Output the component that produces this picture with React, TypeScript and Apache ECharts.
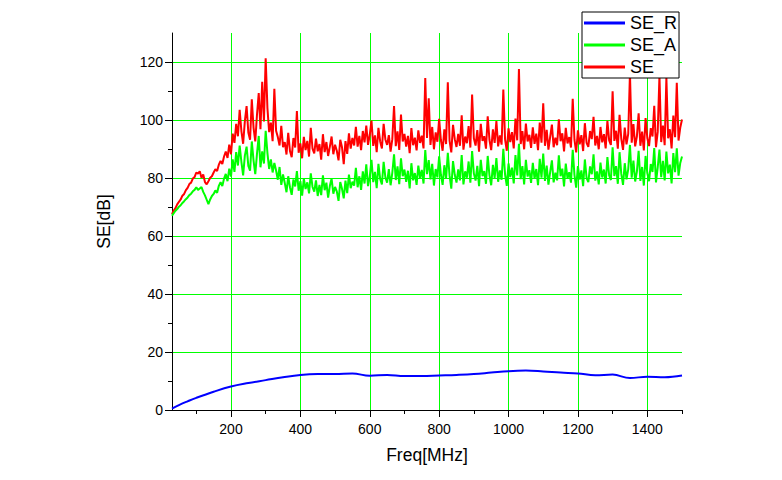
import React, { useEffect, useRef } from "react";
import * as echarts from "echarts";

// Frequency sweep of the noisy measurements: 30 MHz to 1500 MHz in 5 MHz steps
const sweepStart = 30;
const sweepStep = 5;

// SE (red)
const seValues = [
  67.5, 68.8, 69.6, 70.9, 71.8, 72.6, 73.9, 74.5, 75.8, 76.6, 77.9, 78.4, 79.8, 80.3, 81.9,
  81.5, 82.3, 80.1, 81.2, 78.6, 77.8, 78.9, 80.1, 80.6, 81.9,
  83.0, 82.4, 84.6, 85.9, 84.8, 87.4, 89.1, 86.9, 91.5, 88.2,
  95.3, 92.1, 98.7, 94.4, 103.5, 96.2, 91.8, 99.6, 104.8, 95.7, 93.2, 107.1, 97.4, 92.6, 101.9, 109.3, 96.8, 113.2, 99.5, 121.3,
  104.2, 95.8, 99.1, 92.7, 110.8, 96.3, 94.1, 91.2, 98.0, 90.6,
  92.4, 88.1, 95.6, 89.3, 87.2, 93.8, 90.5, 103.1, 88.7, 91.9,
  86.8, 94.2, 89.6, 92.8, 87.4, 97.3, 90.1, 88.5, 93.6, 89.2,
  91.7, 86.3, 95.1, 88.9, 92.4, 87.6, 90.8, 94.3, 88.2, 91.5,
  89.4, 86.1, 93.2, 90.6, 84.8, 92.7, 88.3, 95.4, 90.1, 93.8,
  91.2, 97.6, 90.8, 94.5, 89.6, 96.2, 92.3, 98.1, 91.4, 94.9,
  99.8, 91.1, 94.7, 88.9, 97.3, 92.6, 90.2, 98.7, 93.3, 91.4,
  94.8, 89.1, 93.4, 104.8, 91.0, 96.1, 89.7, 101.9, 92.6, 95.2,
  90.8, 94.5, 88.6, 97.2, 91.3, 93.9, 89.5, 96.4, 92.1, 94.6,
  90.2, 114.5, 93.8, 107.5, 91.4, 97.6, 89.9, 95.7, 92.5, 100.4,
  93.1, 89.4, 96.8, 91.7, 113.0, 92.9, 88.8, 98.3, 93.4, 90.7,
  95.2, 91.1, 101.6, 89.8, 94.3, 92.0, 97.9, 90.5, 108.8, 93.7,
  91.2, 96.5, 89.1, 98.7, 92.8, 94.4, 90.1, 101.3, 93.2, 89.6,
  96.8, 92.1, 99.6, 90.9, 94.7, 91.5, 110.5, 93.3, 89.4, 97.1,
  92.4, 95.8, 90.2, 100.5, 93.0, 117.6, 91.7, 96.2, 89.9, 98.8,
  92.6, 94.9, 90.4, 97.5, 91.8, 95.3, 89.6, 99.1, 92.2, 105.8,
  91.1, 96.6, 89.8, 94.2, 98.4, 90.6, 93.9, 91.3, 100.2, 92.7,
  95.4, 89.2, 97.3, 91.9, 94.1, 90.5, 107.3, 93.2, 88.8, 96.4,
  91.6, 94.8, 89.3, 98.9, 92.1, 90.7, 96.2, 93.4, 101.1, 91.2,
  94.5, 89.9, 97.6, 92.3, 95.1, 90.2, 99.7, 93.0, 91.4, 109.9,
  92.8, 96.3, 90.1, 101.8, 93.5, 89.7, 97.4, 91.6, 95.2, 116.1,
  92.2, 98.6, 90.9, 94.4, 102.3, 91.1, 96.0, 89.5, 100.7, 93.8,
  91.0, 97.2, 94.3, 104.9, 90.6, 95.9, 115.2, 92.4, 98.1, 91.3,
  114.6, 93.7, 96.8, 90.2, 101.5, 94.1, 112.8, 92.9, 97.4, 100.2,
];

// SE_A (green)
const seAValues = [
  67.0, 67.9, 68.7, 69.3, 70.1, 70.6, 71.4, 72.0, 72.7, 73.3, 74.1, 74.6, 75.4, 75.9, 76.8,
  75.9, 76.4, 76.9, 75.2, 74.0, 72.5, 71.0, 72.6, 73.8, 74.5,
  75.7, 74.9, 77.3, 78.6, 77.2, 79.8, 81.4, 78.9, 83.2, 80.5,
  86.4, 82.1, 88.9, 84.3, 91.2, 85.6, 80.9, 87.7, 90.8, 84.2, 82.5, 92.6, 86.1, 81.3, 88.4, 94.5, 83.7, 89.2, 85.0, 96.3,
  88.7, 83.1, 86.4, 81.9, 85.2, 82.6, 79.4, 83.8, 77.6, 81.2,
  78.3, 75.1, 80.6, 76.8, 74.2, 79.5, 77.1, 82.4, 75.6, 78.9,
  73.9, 79.8, 76.2, 78.5, 74.7, 81.6, 76.9, 75.3, 79.2, 73.8,
  77.6, 74.1, 80.9, 75.8, 78.4, 73.2, 77.3, 79.8, 74.6, 76.9,
  75.4, 72.1, 78.6, 76.3, 73.0, 79.1, 74.8, 81.2, 76.5, 78.7,
  77.4, 83.5, 76.8, 80.6, 75.9, 82.3, 78.1, 84.7, 77.2, 80.4,
  86.3, 78.6, 82.1, 76.5, 84.9, 79.7, 77.8, 85.6, 80.2, 78.4,
  83.1, 77.5, 81.8, 88.2, 79.3, 84.0, 77.9, 86.8, 80.6, 82.9,
  78.7, 82.5, 76.4, 85.1, 79.2, 81.7, 77.6, 84.3, 80.0, 82.8,
  78.1, 89.6, 81.3, 86.2, 79.5, 84.9, 77.4, 83.1, 80.2, 87.5,
  81.2, 77.6, 84.4, 79.8, 88.7, 80.9, 76.3, 85.8, 81.1, 78.4,
  83.0, 79.2, 87.9, 77.8, 82.3, 80.1, 85.7, 78.4, 89.3, 81.6,
  79.1, 84.2, 77.2, 86.3, 80.6, 82.4, 78.0, 87.6, 81.0, 77.5,
  84.5, 80.0, 86.9, 78.7, 82.6, 79.4, 90.1, 81.2, 77.3, 85.0,
  80.3, 83.6, 78.1, 87.9, 80.9, 91.8, 79.6, 84.1, 77.8, 86.3,
  80.5, 82.7, 78.3, 85.2, 79.7, 83.1, 77.5, 86.6, 80.1, 88.4,
  79.0, 84.3, 77.7, 82.0, 86.1, 78.5, 81.8, 79.2, 87.8, 80.6,
  83.2, 77.1, 85.0, 79.8, 82.0, 78.4, 89.7, 81.1, 76.7, 84.1,
  79.5, 82.6, 77.2, 86.4, 80.0, 78.6, 84.0, 81.3, 88.2, 79.1,
  82.3, 77.8, 85.3, 80.2, 82.9, 78.1, 87.2, 80.9, 79.3, 90.6,
  80.7, 84.1, 78.0, 88.9, 81.4, 77.6, 85.1, 79.5, 83.0, 91.4,
  80.1, 86.0, 78.8, 82.2, 89.4, 79.0, 83.8, 77.4, 87.6, 81.7,
  78.9, 84.8, 82.1, 90.3, 78.5, 83.7, 89.8, 80.3, 85.9, 79.2,
  89.1, 81.6, 84.6, 78.1, 88.6, 82.0, 90.2, 80.8, 85.2, 87.4,
];

// SE_R (blue), smooth curve
const seRFreq = [30, 50, 75, 100, 150, 200, 250, 300, 350, 400, 450, 500, 550, 600, 650, 700, 750, 800, 850, 900, 950, 1000, 1050, 1100, 1150, 1200, 1250, 1300, 1350, 1400, 1450, 1500];
const seRValues = [0.5, 1.7, 3.0, 4.2, 6.3, 8.1, 9.3, 10.3, 11.3, 12.1, 12.4, 12.4, 12.6, 11.8, 12.1, 11.7, 11.7, 11.9, 12.1, 12.4, 12.9, 13.4, 13.6, 13.3, 12.9, 12.6, 12.0, 12.2, 11.0, 11.5, 11.3, 11.9];

// Axis ticks
const xMajorTicks = [200, 400, 600, 800, 1000, 1200, 1400];
const xMinorTicks = [100, 300, 500, 700, 900, 1100, 1300, 1500];
const yMajorTicks = [0, 20, 40, 60, 80, 100, 120];
const yMinorTicks = [10, 30, 50, 70, 90, 110];

const seriesNames = ["SE_R", "SE_A", "SE"];

const FONT = "'Liberation Sans', Arial, sans-serif";

export default function App() {
  const ref = useRef<HTMLDivElement>(null);

  useEffect(() => {
    if (!ref.current) return;
    const chart = echarts.init(ref.current, undefined, { renderer: "svg" });

    const sweep = (vals: number[]) => vals.map((v, i) => [sweepStart + i * sweepStep, v]);
    const seData = sweep(seValues);
    const seAData = sweep(seAValues);
    const seRData = seRFreq.map((f, i) => [f, seRValues[i]]);
    const plain = (v: number) => String(v);

    const baseX = {
      type: "value" as const,
      min: 30,
      max: 1500,
      gridIndex: 0,
      position: "bottom" as const,
    };
    const baseY = {
      type: "value" as const,
      min: 0,
      max: 130,
      gridIndex: 0,
      position: "left" as const,
    };

    chart.setOption({
      animation: false,
      backgroundColor: "#ffffff",
      grid: { left: 172, right: 100, top: 33, bottom: 70, containLabel: false },
      legend: {
        data: seriesNames,
        orient: "vertical",
        left: 582,
        top: 12,
        width: 94,
        padding: [1, 0, 1, 2],
        itemGap: 2,
        itemWidth: 41,
        itemHeight: 3,
        icon: "rect",
        backgroundColor: "#ffffff",
        borderColor: "#000000",
        borderWidth: 1,
        borderRadius: 0,
        textStyle: { fontFamily: FONT, fontSize: 18, color: "#000", lineHeight: 20, padding: [0, 2, 0, 0] },
      },
      xAxis: [
        {
          ...baseX,
          name: "Freq[MHz]",
          nameLocation: "middle",
          nameGap: 36,
          nameTextStyle: { fontFamily: FONT, fontSize: 17.5, color: "#000" },
          axisLine: { show: true, onZero: false, lineStyle: { color: "#000", width: 1 } },
          axisTick: { show: true, inside: false, length: 7, customValues: xMajorTicks, lineStyle: { color: "#000" } },
          axisLabel: { show: true, customValues: xMajorTicks, formatter: plain, margin: 12, fontFamily: FONT, fontSize: 14, color: "#000" },
          splitLine: { show: true, lineStyle: { color: "#00ff00", width: 1 } },
        },
        {
          ...baseX,
          axisLine: { show: false },
          axisTick: { show: true, inside: false, length: 4, customValues: xMinorTicks, lineStyle: { color: "#000" } },
          axisLabel: { show: false },
          splitLine: { show: false },
        },
      ],
      yAxis: [
        {
          ...baseY,
          name: "SE[dB]",
          nameLocation: "middle",
          nameGap: 59,
          nameRotate: 90,
          nameTextStyle: { fontFamily: FONT, fontSize: 17.5, color: "#000" },
          axisLine: { show: true, onZero: false, lineStyle: { color: "#000", width: 1 } },
          axisTick: { show: true, inside: false, length: 7, customValues: yMajorTicks, lineStyle: { color: "#000" } },
          axisLabel: { show: true, customValues: yMajorTicks, formatter: plain, margin: 9, fontFamily: FONT, fontSize: 14, color: "#000" },
          splitLine: { show: true, lineStyle: { color: "#00ff00", width: 1 } },
        },
        {
          ...baseY,
          axisLine: { show: false },
          axisTick: { show: true, inside: false, length: 4, customValues: yMinorTicks, lineStyle: { color: "#000" } },
          axisLabel: { show: false },
          splitLine: { show: false },
        },
      ],
      series: [
        {
          name: "SE_R",
          type: "line",
          xAxisIndex: 0,
          yAxisIndex: 0,
          data: seRData,
          smooth: 0.4,
          showSymbol: false,
          symbol: "none",
          color: "#0000ff",
          lineStyle: { color: "#0000ff", width: 2 },
        },
        {
          name: "SE",
          type: "line",
          xAxisIndex: 0,
          yAxisIndex: 0,
          data: seData,
          showSymbol: false,
          symbol: "none",
          color: "#ff0000",
          lineStyle: { color: "#ff0000", width: 2 },
        },
        {
          name: "SE_A",
          type: "line",
          xAxisIndex: 0,
          yAxisIndex: 0,
          data: seAData,
          showSymbol: false,
          symbol: "none",
          color: "#00ff00",
          lineStyle: { color: "#00ff00", width: 2 },
        },
      ],
    });

    return () => {
      chart.dispose();
    };
  }, []);

  return (
    <div
      ref={ref}
      style={{ position: "fixed", left: 0, top: 0, width: 782, height: 480, background: "#fff" }}
    />
  );
}
